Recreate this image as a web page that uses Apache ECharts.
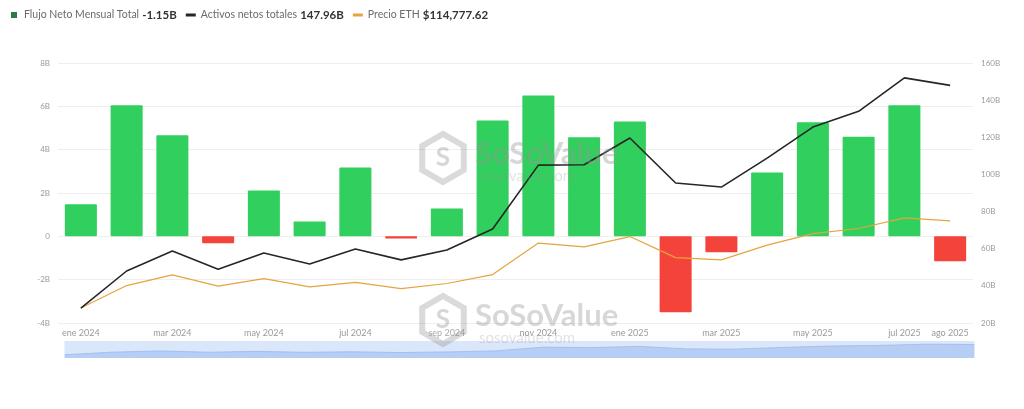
<!DOCTYPE html>
<html>
<head>
<meta charset="utf-8">
<style>
  html, body { margin: 0; padding: 0; background: #fff; }
  #chart { width: 1024px; height: 409px; }
</style>
<script src="https://cdn.jsdelivr.net/npm/echarts@6/dist/echarts.min.js"></script>
</head>
<body>
<div id="chart"></div>
<script>
// Months on the category axis
const months = [
  'ene 2024', 'feb 2024', 'mar 2024', 'abr 2024', 'may 2024', 'jun 2024',
  'jul 2024', 'ago 2024', 'sep 2024', 'oct 2024', 'nov 2024', 'dic 2024',
  'ene 2025', 'feb 2025', 'mar 2025', 'abr 2025', 'may 2025', 'jun 2025',
  'jul 2025', 'ago 2025'
];

// Monthly net flow, billions USD
const netFlow = [
  1.48, 6.05, 4.66, -0.32, 2.12, 0.69, 3.18, -0.10, 1.29, 5.35,
  6.50, 4.57, 5.30, -3.50, -0.74, 2.95, 5.26, 4.60, 6.05, -1.15
];

// Total net assets, billions USD
const netAssets = [
  28.0, 48.0, 58.8, 49.0, 57.7, 51.8, 59.8, 54.0, 59.3, 70.6,
  105.0, 105.2, 119.6, 95.4, 93.2, 108.8, 125.5, 134.0, 152.0, 147.96
];

// Price, USD
const price = [
  42500, 61100, 70000, 60600, 66800, 60000, 63800, 58600, 62800, 70200,
  96400, 93200, 101800, 84300, 82400, 94700, 104300, 108500, 117300, 114777.62
];

// Left axis tick labels (billions)
const leftTicks = { '8': '8B', '6': '6B', '4': '4B', '2': '2B', '0': '0', '-2': '-2B', '-4': '-4B' };

const GREEN = '#31cf5d';
const RED = '#f4433a';
const BLACK = '#262626';
const ORANGE = '#e6a43f';
const FONT = 'Lato, "Open Sans", sans-serif';

const chart = echarts.init(document.getElementById('chart'), null, { renderer: 'canvas' });

const lastFlow = netFlow[netFlow.length - 1];
const lastAssets = netAssets[netAssets.length - 1];
const lastPrice = price[price.length - 1];

const legendValues = {
  'Flujo Neto Mensual Total': lastFlow.toFixed(2) + 'B',
  'Activos netos totales': lastAssets.toFixed(2) + 'B',
  'Precio ETH': '$' + lastPrice.toLocaleString('en-US', { minimumFractionDigits: 2, maximumFractionDigits: 2 })
};

// Watermark: hexagon badge + brand name + site
function watermark(cx, cy) {
  const r = 24;
  const pts = [];
  for (let i = 0; i < 6; i++) {
    const a = Math.PI / 6 + i * Math.PI / 3;
    pts.push([cx + r * Math.cos(a), cy + r * Math.sin(a)]);
  }
  return [
    {
      type: 'polygon', shape: { points: pts }, z: 100,
      style: { fill: 'rgba(255,255,255,0.15)', stroke: 'rgba(140,140,140,0.32)', lineWidth: 6 }
    },
    {
      type: 'text', x: cx, y: cy, z: 100,
      style: { text: 'S', fill: 'rgba(140,140,140,0.36)', font: 'bold 26px ' + FONT, align: 'center', verticalAlign: 'middle' }
    },
    {
      type: 'text', x: cx + 32, y: cy - 4, z: 100,
      style: { text: 'SoSoValue', fill: 'rgba(150,150,150,0.38)', font: 'bold 31px ' + FONT, verticalAlign: 'middle' }
    },
    {
      type: 'text', x: cx + 36, y: cy + 18, z: 100,
      style: { text: 'sosovalue.com', fill: 'rgba(150,150,150,0.28)', font: '15px ' + FONT, verticalAlign: 'middle' }
    }
  ];
}

const option = {
  backgroundColor: '#ffffff',
  animation: false,
  textStyle: { fontFamily: FONT },
  legend: {
    left: 6,
    top: 4,
    itemGap: 9,
    itemWidth: 10,
    itemHeight: 6,
    selectedMode: false,
    data: [
      { name: 'Flujo Neto Mensual Total', icon: 'path://M0,0H6V6H0Z', itemStyle: { color: '#2f7a4a' } },
      { name: 'Activos netos totales', icon: 'path://M0,0H10V3H0Z', itemStyle: { color: BLACK } },
      { name: 'Precio ETH', icon: 'path://M0,0H10V3H0Z', itemStyle: { color: ORANGE } }
    ],
    formatter: function (name) {
      return '{n|' + name + '} {v|' + legendValues[name] + '}';
    },
    textStyle: {
      rich: {
        n: { color: '#6b6b6b', fontSize: 10.5, fontFamily: FONT },
        v: { color: '#333', fontSize: 11.5, fontWeight: 'bold', fontFamily: FONT }
      }
    }
  },
  grid: { left: 58, right: 51, top: 63, bottom: 86 },
  xAxis: {
    type: 'category',
    data: months,
    axisLine: { show: false },
    axisTick: { show: false },
    axisLabel: {
      color: '#9a9a9a',
      fontSize: 9,
      margin: 6,
      interval: function (idx) { return idx % 2 === 0 || idx === months.length - 1; }
    }
  },
  yAxis: [
    {
      type: 'value',
      min: -4, max: 8, interval: 2,
      axisLine: { show: false },
      axisTick: { show: false },
      axisLabel: {
        color: '#9a9a9a', fontSize: 8, margin: 8,
        formatter: function (v) { return leftTicks[String(v)]; }
      },
      splitLine: { lineStyle: { color: '#eeeeee', width: 1 } }
    },
    {
      type: 'value',
      min: 20, max: 160, interval: 20,
      position: 'right',
      axisLine: { show: false },
      axisTick: { show: false },
      axisLabel: {
        color: '#9a9a9a', fontSize: 8, margin: 8,
        formatter: function (v) { return v + 'B'; }
      },
      splitLine: { show: false }
    },
    {
      type: 'value',
      min: 30000, max: 246000,
      show: false,
      splitLine: { show: false }
    }
  ],
  dataZoom: [
    {
      type: 'slider',
      xAxisIndex: 0,
      left: 62, right: 52, top: 341, height: 17,
      start: 0, end: 100,
      showDetail: false,
      brushSelect: false,
      borderColor: 'transparent',
      backgroundColor: 'rgba(215,228,250,0.5)',
      fillerColor: 'rgba(180,205,245,0.3)',
      handleSize: 0,
      handleStyle: { opacity: 0 },
      moveHandleSize: 0,
      dataBackground: {
        lineStyle: { color: '#8fb0ea', width: 1, opacity: 0.8 },
        areaStyle: { color: '#a3c0f0', opacity: 0.7 }
      },
      selectedDataBackground: {
        lineStyle: { color: '#8fb0ea', width: 1, opacity: 0.8 },
        areaStyle: { color: '#a3c0f0', opacity: 0.7 }
      }
    }
  ],
  series: [
    {
      name: 'Precio ETH',
      type: 'line',
      yAxisIndex: 2,
      data: price,
      symbol: 'none',
      z: 4,
      lineStyle: { color: ORANGE, width: 1.2 },
      itemStyle: { color: ORANGE }
    },
    {
      name: 'Flujo Neto Mensual Total',
      type: 'bar',
      yAxisIndex: 0,
      barWidth: '70%',
      z: 2,
      data: netFlow.map(function (v) {
        return { value: v, itemStyle: { color: v >= 0 ? GREEN : RED } };
      }),
      itemStyle: { color: GREEN, borderRadius: 1 }
    },
    {
      name: 'Activos netos totales',
      type: 'line',
      yAxisIndex: 1,
      data: netAssets,
      symbol: 'none',
      z: 5,
      lineStyle: { color: BLACK, width: 1.6 },
      itemStyle: { color: BLACK }
    }
  ],
  graphic: watermark(443, 158).concat(watermark(443, 320))
};

chart.setOption(option);
</script>
</body>
</html>
